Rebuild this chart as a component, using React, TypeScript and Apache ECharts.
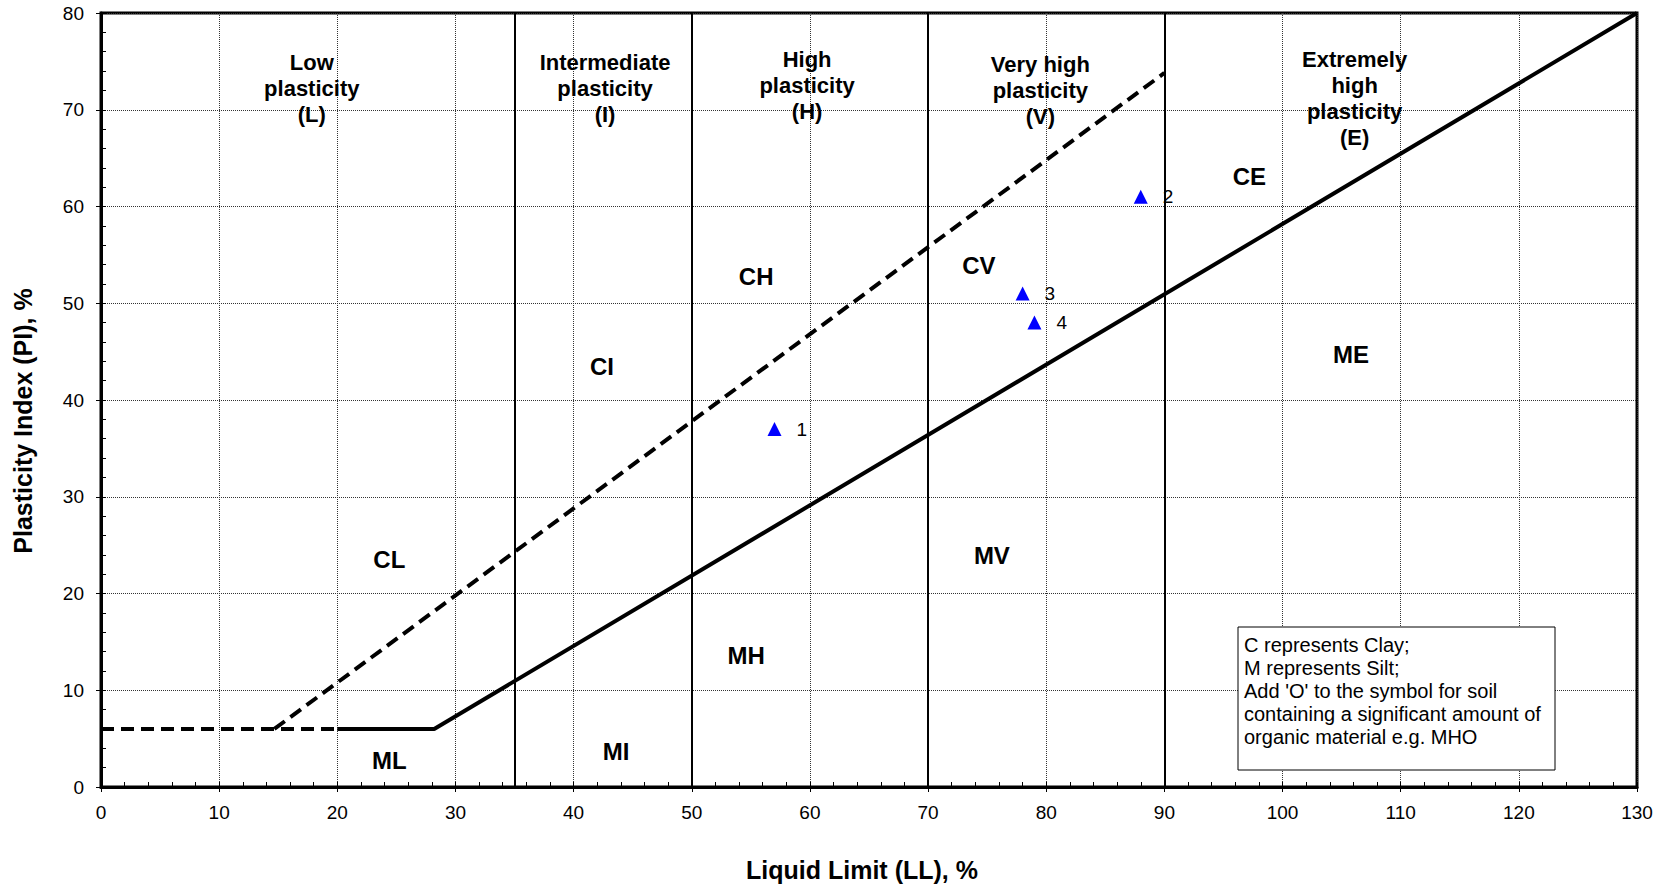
import React, { useEffect, useRef } from 'react';
import * as echarts from 'echarts';

const FONT = '"Liberation Sans", Arial, sans-serif';

// Sample points: Liquid Limit (LL), Plasticity Index (PI)
const sampleIds = ['1', '2', '3', '4'];
const sampleLL = [57, 88, 78, 79];
const samplePI = [37, 61, 51, 48];

// A-line (solid): PI = 0.73 (LL - 20), with PI = 6 plateau
const aLine = [
  [20, 6],
  [28.2, 6],
  [130, 80],
];
// U-line (dashed): PI = 0.9 (LL - 8)
const uLineFlat = [
  [0, 6],
  [20, 6],
];
const uLine = [
  [14.67, 6],
  [90, 73.8],
];

// plasticity zone boundaries (LL)
const boundaries = [35, 50, 70, 90];

// zone headers [LL, PI, text]
const zoneHeaders: [number, number, string][] = [
  [17.84, 72.2, 'Low\nplasticity\n(L)'],
  [42.66, 72.2, 'Intermediate\nplasticity\n(I)'],
  [59.76, 72.5, 'High\nplasticity\n(H)'],
  [79.5, 72.0, 'Very high\nplasticity\n(V)'],
  [106.1, 71.2, 'Extremely\nhigh\nplasticity\n(E)'],
];

// soil class labels [LL, PI, text]
const soilLabels: [number, number, string][] = [
  [24.4, 23.5, 'CL'],
  [24.4, 2.7, 'ML'],
  [42.4, 43.5, 'CI'],
  [43.6, 3.7, 'MI'],
  [55.45, 52.8, 'CH'],
  [54.6, 13.6, 'MH'],
  [74.3, 53.9, 'CV'],
  [75.4, 23.9, 'MV'],
  [97.2, 63.1, 'CE'],
  [105.8, 44.7, 'ME'],
];

const noteLines = [
  'C represents Clay;',
  'M represents Silt;',
  "Add 'O' to the symbol for soil",
  'containing a significant amount of',
  'organic material e.g. MHO',
];

export default function App() {
  const ref = useRef<HTMLDivElement>(null);

  useEffect(() => {
    if (!ref.current) return;
    const chart = echarts.init(ref.current, undefined, { renderer: 'svg' });

    const gridLine = { show: true, lineStyle: { color: '#333', type: 'dotted', width: 1 } };

    const option: any = {
      animation: false,
      backgroundColor: '#fff',
      grid: {
        left: 101,
        right: 26,
        top: 13,
        bottom: 102,
        show: true,
        borderColor: '#000',
        borderWidth: 3,
        backgroundColor: 'transparent',
      },
      xAxis: [
        {
          type: 'value',
          min: 0,
          max: 130,
          interval: 10,
          position: 'bottom',
          axisLine: { show: true, onZero: false, lineStyle: { color: '#000', width: 3 } },
          axisTick: { show: true, inside: false, length: 5, lineStyle: { color: '#000', width: 1 } },
          axisLabel: { color: '#000', fontSize: 19, fontFamily: FONT, margin: 16 },
          splitLine: gridLine,
        },
        {
          type: 'value',
          min: 0,
          max: 130,
          interval: 2,
          position: 'bottom',
          axisLine: { show: false, onZero: false },
          axisTick: { show: true, inside: true, length: 5, lineStyle: { color: '#000', width: 1 } },
          axisLabel: { show: false },
          splitLine: { show: false },
        },
      ],
      yAxis: [
        {
          type: 'value',
          min: 0,
          max: 80,
          interval: 10,
          position: 'left',
          axisLine: { show: true, onZero: false, lineStyle: { color: '#000', width: 3 } },
          axisTick: { show: true, inside: false, length: 5, lineStyle: { color: '#000', width: 1 } },
          axisLabel: { color: '#000', fontSize: 19, fontFamily: FONT, margin: 17 },
          splitLine: gridLine,
        },
        {
          type: 'value',
          min: 0,
          max: 80,
          interval: 2,
          position: 'left',
          axisLine: { show: false, onZero: false },
          axisTick: { show: true, inside: true, length: 5, lineStyle: { color: '#000', width: 1 } },
          axisLabel: { show: false },
          splitLine: { show: false },
        },
      ],
      series: [
        {
          type: 'line',
          name: 'A-line',
          data: aLine,
          symbol: 'none',
          silent: true,
          lineStyle: { color: '#000', width: 4 },
          z: 3,
          markLine: {
            silent: true,
            symbol: ['none', 'none'],
            label: { show: false },
            lineStyle: { color: '#000', width: 2, type: 'solid' },
            data: boundaries.map((v) => ({ xAxis: v })),
          },
        },
        {
          type: 'line',
          name: 'U-flat',
          data: uLineFlat,
          symbol: 'none',
          silent: true,
          lineStyle: { color: '#000', width: 4, type: [13, 7] },
          z: 3,
        },
        {
          type: 'line',
          name: 'U-line',
          data: uLine,
          symbol: 'none',
          silent: true,
          lineStyle: { color: '#000', width: 4, type: [13, 7] },
          z: 3,
        },
        {
          type: 'scatter',
          name: 'headers',
          silent: true,
          symbolSize: 0,
          itemStyle: { opacity: 1 },
          data: zoneHeaders.map((d) => ({ value: [d[0], d[1]], name: d[2] })),
          label: {
            show: true,
            position: 'inside',
            formatter: '{b}',
            color: '#000',
            opacity: 1,
            fontSize: 22,
            fontWeight: 'bold',
            fontFamily: FONT,
            lineHeight: 26,
            align: 'center',
          },
          z: 4,
        },
        {
          type: 'scatter',
          name: 'soil',
          silent: true,
          symbolSize: 0,
          itemStyle: { opacity: 1 },
          data: soilLabels.map((d) => ({ value: [d[0], d[1]], name: d[2] })),
          label: {
            show: true,
            position: 'inside',
            formatter: '{b}',
            color: '#000',
            opacity: 1,
            fontSize: 24,
            fontWeight: 'bold',
            fontFamily: FONT,
          },
          z: 4,
        },
        {
          type: 'scatter',
          name: 'samples',
          silent: true,
          symbol: 'triangle',
          symbolSize: 14,
          itemStyle: { color: '#0000FF', opacity: 1 },
          data: sampleIds.map((id, i) => ({ value: [sampleLL[i], samplePI[i]], name: id })),
          label: {
            show: true,
            position: 'right',
            distance: 15,
            formatter: '{b}',
            color: '#000',
            opacity: 1,
            fontSize: 19,
            fontFamily: FONT,
          },
          z: 5,
        },
      ],
      graphic: [
        {
          type: 'text',
          x: 862,
          y: 870,
          silent: true,
          style: {
            text: 'Liquid Limit (LL), %',
            fill: '#000',
            fontSize: 25,
            fontWeight: 'bold',
            fontFamily: FONT,
            textAlign: 'center',
            textVerticalAlign: 'middle',
          },
        },
        {
          type: 'text',
          x: 23,
          y: 421,
          rotation: Math.PI / 2,
          silent: true,
          style: {
            text: 'Plasticity Index (PI), %',
            fill: '#000',
            fontSize: 25,
            fontWeight: 'bold',
            fontFamily: FONT,
            textAlign: 'center',
            textVerticalAlign: 'middle',
          },
        },
        {
          type: 'rect',
          silent: true,
          z: 100,
          shape: { x: 1238, y: 627, width: 317, height: 143 },
          style: { fill: '#fff', stroke: '#000', lineWidth: 1 },
        },
        {
          type: 'text',
          silent: true,
          z: 101,
          x: 1244,
          y: 633,
          style: {
            text: noteLines.join('\n'),
            fill: '#000',
            fontSize: 20,
            fontFamily: FONT,
            lineHeight: 23,
            textVerticalAlign: 'top',
          },
        },
      ],
    };

    chart.setOption(option);
    return () => chart.dispose();
  }, []);

  return (
    <div
      ref={ref}
      style={{ position: 'fixed', left: 0, top: 0, width: 1663, height: 889, background: '#fff' }}
    />
  );
}
